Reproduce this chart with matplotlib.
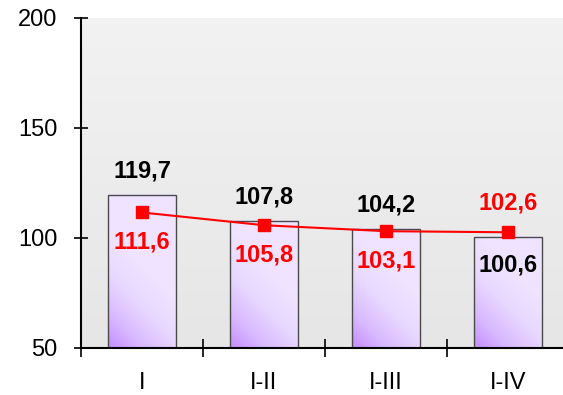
import numpy as np
import matplotlib.pyplot as plt
from matplotlib.colors import LinearSegmentedColormap

plt.rcParams['font.family'] = ['Liberation Sans', 'DejaVu Sans']

categories = ["I", "I-II", "I-III", "I-IV"]
bar_values = [119.7, 107.8, 104.2, 100.6]
line_values = [111.6, 105.8, 103.1, 102.6]
bar_labels = ["119,7", "107,8", "104,2", "100,6"]
line_labels = ["111,6", "105,8", "103,1", "102,6"]

fig = plt.figure(figsize=(5.63, 3.95), dpi=100)
ax = fig.add_axes([81 / 563, 47 / 395, 488 / 563, 330 / 395])

ymin, ymax = 50, 200
ax.set_xlim(0, len(categories))
ax.set_ylim(ymin, ymax)

# plot area background, light grey gradient
bg = LinearSegmentedColormap.from_list("bg", ["#e6e6e6", "#f2f2f2"])
ax.imshow(np.linspace(0, 1, 100).reshape(-1, 1), cmap=bg, aspect="auto",
          extent=[0, len(categories), ymin, ymax], origin="lower", zorder=0)

# bars with purple diagonal gradient
xs = np.arange(len(categories)) + 0.5
bars = ax.bar(xs, np.array(bar_values) - ymin, bottom=ymin, width=0.55,
              facecolor="none", edgecolor="#4a4a4a", linewidth=1, zorder=3)
purple = LinearSegmentedColormap.from_list("pp", ["#c084ff", "#d8b8ff", "#e8d8ff", "#efe3ff"])
for b, v in zip(bars, bar_values):
    x0 = b.get_x()
    gx, gy = np.meshgrid(np.linspace(0, 1, 60), np.linspace(0, v - ymin, 150))
    grad = np.clip(0.55 * gx + gy / 55 + 0.05, 0, 1)
    ax.imshow(grad, cmap=purple, aspect="auto", origin="lower", vmin=0, vmax=1,
              extent=[x0, x0 + b.get_width(), ymin, v], zorder=2)

# line
ax.plot(xs, line_values, color="red", linewidth=1.5, marker="s",
        markersize=8.5, zorder=5)

# labels
for i, (x, v) in enumerate(zip(xs, bar_values)):
    off = -28 if i == 3 else 24
    ax.annotate(bar_labels[i], (x, v), xytext=(0, off), textcoords="offset pixels",
                ha="center", va="center", fontsize=17, fontweight="bold",
                color="black", zorder=6)
for i, (x, v) in enumerate(zip(xs, line_values)):
    off = 29 if i == 3 else -30
    ax.annotate(line_labels[i], (x, v), xytext=(0, off), textcoords="offset pixels",
                ha="center", va="center", fontsize=17, fontweight="bold",
                color="red", zorder=6)

for s in ["top", "right"]:
    ax.spines[s].set_visible(False)
for s in ["left", "bottom"]:
    ax.spines[s].set_linewidth(1.5)
    ax.spines[s].set_zorder(7)

ax.set_yticks([50, 100, 150, 200])
ax.tick_params(axis="y", direction="inout", length=10, width=1.2, labelsize=17, pad=12)
ax.set_xticks(np.arange(len(categories)))
ax.set_xticklabels([])
ax.tick_params(axis="x", which="major", direction="inout", length=13, width=1.2)
ax.set_xticks(xs, minor=True)
ax.set_xticklabels(categories, minor=True)
ax.tick_params(axis="x", which="minor", length=0, labelsize=17, pad=17)

fig.savefig("out.png", dpi=100)
